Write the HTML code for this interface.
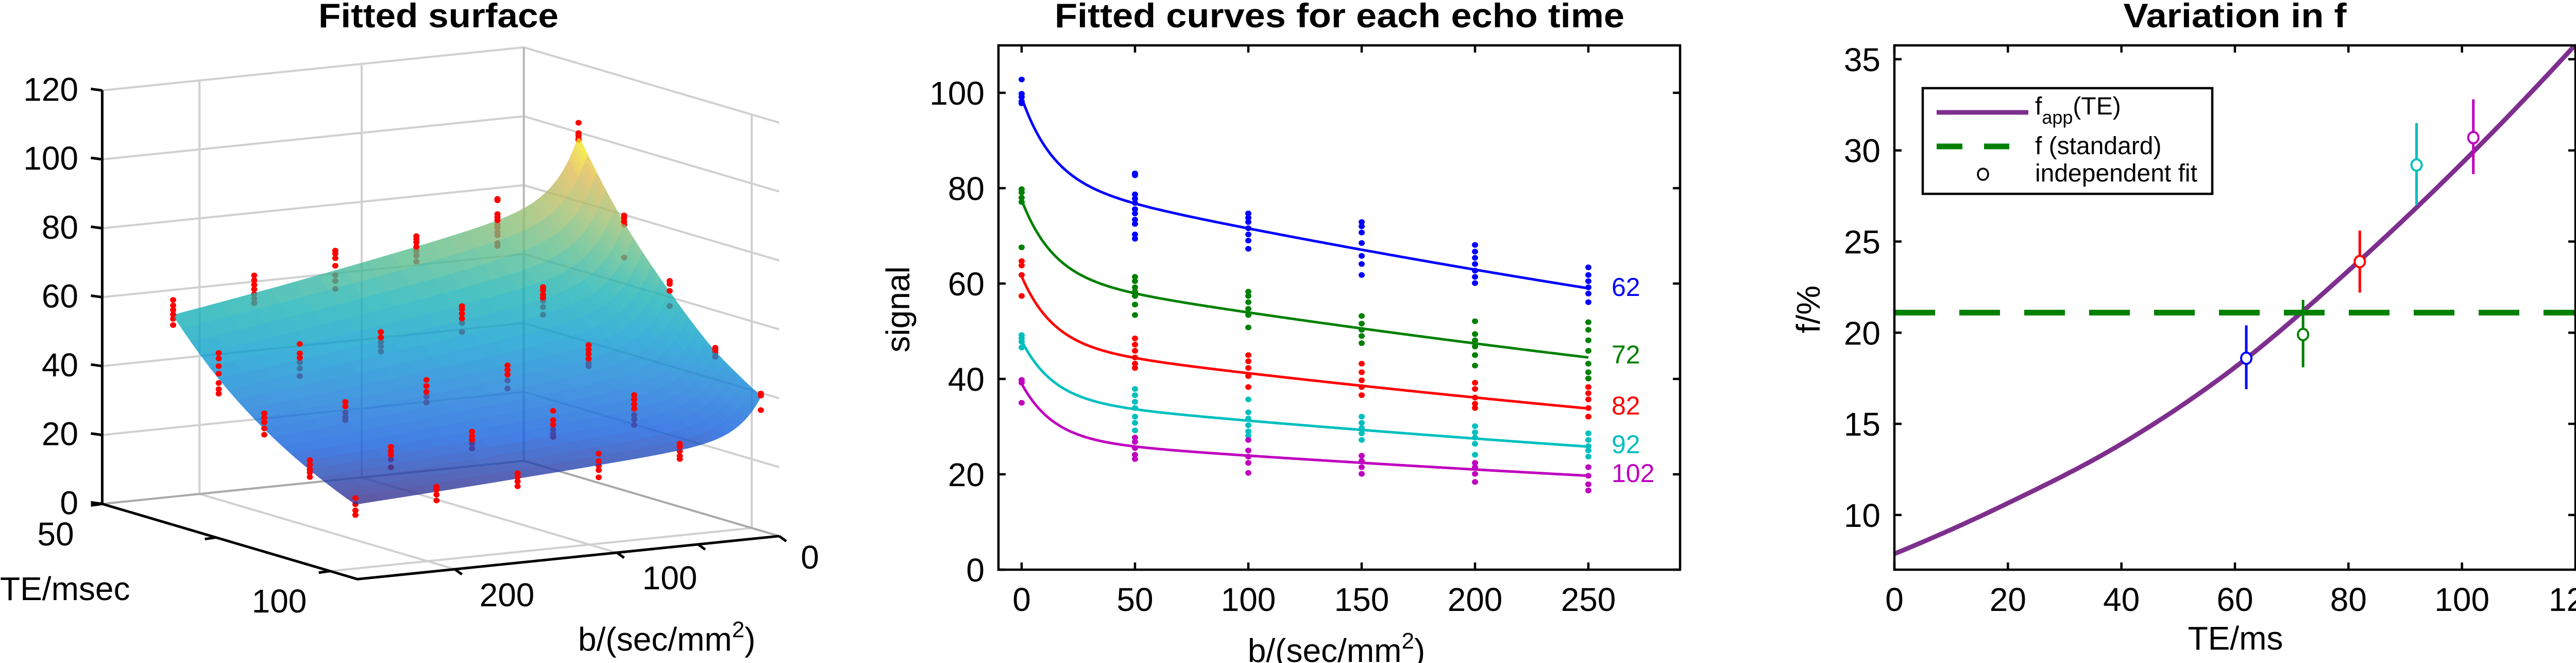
<!DOCTYPE html>
<html><head><meta charset="utf-8"><style>
html,body{margin:0;padding:0;background:#fff;}
svg{display:block;font-family:"Liberation Sans",sans-serif;}
</style></head><body>
<svg id="fig" xmlns="http://www.w3.org/2000/svg" width="5058" height="1286" viewBox="0 0 5058 1286">
<defs>
<clipPath id="clipR"><rect x="3677" y="88" width="1322" height="1017"/></clipPath>
<clipPath id="clipM"><rect x="1938" y="88" width="1323" height="1017"/></clipPath>
</defs>
<g id="p3d"></g>
<g id="pmid"></g>
<g id="pright"></g>
</svg>
<script>
// ---------- data ----------
const echoTimes = [62, 72, 82, 92, 102];
const bValues = [0, 50, 100, 150, 200, 250];
const fitS0 = [99, 77.5, 61.5, 48, 39];
const fitS50 = [76.3, 57.5, 44, 33.3, 25.5];
const fitS250 = [59, 44.5, 33.8, 25.8, 19.7];
const seriesColors = ['#0000ff', '#008000', '#ff0000', '#00bfbf', '#bf00bf'];
const sig62 = [[102.8,99.8,99.1,98.2,97.8],[83.1,82.7,78.7,77.8,76.9,75.6,74.7,73.4,72.5,70.3,69.4],[74.7,73.8,72.9,71.6,70.3,69.0,67.3],[72.9,72.0,70.7,68.5,65.8,64.1,61.8],[68.1,66.7,65.4,64.1,62.7,61.4,60.1],[63.4,61.8,60.5,59.2,57.9,56.1]];
const sig72 = [[79.8,79.1,78.0,77.1,67.6],[61.4,60.5,59.2,58.3,57.4,55.6,53.4],[58.3,57.4,56.1,54.7,53.4,50.8],[53.2,51.6,50.3,49.0,47.5],[52.1,49.4,48.1,46.8,45.0,42.8],[51.9,50.3,48.1,45.9,43.2,41.4,40.1]];
const sig82 = [[64.7,63.8,61.8,57.4],[48.5,47.2,45.9,44.5,43.2,42.3],[45.0,43.7,42.3,40.6,38.3],[43.2,41.4,39.7,38.3,36.6],[39.2,37.9,36.1,34.8,33.9],[38.3,37.0,35.7,33.9,32.1]];
const sig92 = [[49.2,48.5,47.8,46.6],[37.9,36.6,35.2,33.9,32.1,30.8,29.2],[35.7,33.0,31.7,30.3,29.0,28.1],[32.1,30.8,29.7,28.6,27.2],[30.1,28.8,27.7,26.4,24.1],[28.6,27.2,25.9,25.0,23.7]];
const sig102 = [[39.8,39.2,35.0],[27.7,26.8,25.5,24.1,23.2],[27.2,25.0,23.7,22.4,20.3],[23.9,22.8,21.5,20.1],[22.4,21.5,20.1,18.4],[21.5,19.7,17.9,16.6]];
const signalPoints = [sig62, sig72, sig82, sig92, sig102];
const teGrid = [0,20,40,60,80,100,120];
const fappVals = [7.87,10.65,13.9,18.1,23.4,29.3,35.8];
const fStandard = 21.1;
const indepTE = [62,72,82,92,102];
const indepF = [18.6,19.9,23.9,29.2,30.7];
const indepLo = [16.9,18.1,22.2,27.0,28.7];
const indepHi = [20.4,21.8,25.6,31.5,32.8];
const midXTicks = [0,50,100,150,200,250];
const midYTicks = [0,20,40,60,80,100];
const rightXTicks = [0,20,40,60,80,100,120];
const rightYTicks = [10,15,20,25,30,35];
const zTicks = [0,20,40,60,80,100,120];

const NS = 'http://www.w3.org/2000/svg';
function mk(parent, tag, attrs) {
  const e = document.createElementNS(NS, tag);
  for (const k in attrs) e.setAttribute(k, attrs[k]);
  parent.appendChild(e);
  return e;
}
function fitCurve(i, b) {
  const r = fitS250[i] / fitS50[i];
  const slow = fitS50[i] * Math.pow(r, (b - 50) / 200);
  const slow0 = fitS50[i] * Math.pow(r, -50 / 200);
  return slow + (fitS0[i] - slow0) * Math.exp(-b / 14);
}
function fitSurface(te, b) {
  let i = 0;
  while (i < echoTimes.length - 2 && te > echoTimes[i + 1]) i++;
  const t = (te - echoTimes[i]) / (echoTimes[i + 1] - echoTimes[i]);
  return Math.exp((1 - t) * Math.log(fitCurve(i, b)) + t * Math.log(fitCurve(i + 1, b)));
}

// ---------- middle panel ----------
const gm = document.getElementById('pmid');
const mx = b => 1983 + b * 4.4;
const my = v => 1105 - v * 9.25;
{
  let t = mk(gm, 'text', {x: 2600, y: 53, 'text-anchor': 'middle', 'font-size': 66, 'font-weight': 'bold', textLength: 1106, lengthAdjust: 'spacingAndGlyphs'});
  t.textContent = 'Fitted curves for each echo time';
  
  
  midXTicks.forEach(v => {
    const l = mk(gm, 'path', {d: `M${mx(v)},1105v-14M${mx(v)},88v14`, stroke: '#000', 'stroke-width': 4.5});
    
    
    const tx = mk(gm, 'text', {x: mx(v), y: 1185, 'text-anchor': 'middle', 'font-size': 64});
    tx.textContent = v;
    
    
  });
  midYTicks.forEach(v => {
    const l = mk(gm, 'path', {d: `M1938,${my(v)}h14M3261,${my(v)}h-14`, stroke: '#000', 'stroke-width': 4.5});
    
    
    const tx = mk(gm, 'text', {x: 1911, y: my(v) + 23, 'text-anchor': 'end', 'font-size': 64});
    tx.textContent = v;
    
    
  });
  const yl = mk(gm, 'text', {x: 0, y: 0, transform: 'translate(1765,600) rotate(-90)', 'text-anchor': 'middle', 'font-size': 64});
  yl.textContent = 'signal';
  
  
  const xl = mk(gm, 'text', {x: 2594, y: 1284, 'text-anchor': 'middle', 'font-size': 64});
  xl.innerHTML = 'b/(sec/mm<tspan dy="-26" font-size="44">2</tspan><tspan dy="26">)</tspan>';
  
  
  const cg = mk(gm, 'g', {'clip-path': 'url(#clipM)'});
  echoTimes.forEach((te, i) => {
    signalPoints[i].forEach((vals, j) => {
      vals.forEach(v => {
        const c = mk(cg, 'ellipse', {cx: mx(bValues[j]), cy: my(v), rx: 6, ry: 5.5, fill: seriesColors[i]});
        
        
      });
    });
    let d = '';
    for (let b = 0; b <= 250; b += 1) d += (b ? 'L' : 'M') + mx(b).toFixed(1) + ',' + my(fitCurve(i, b)).toFixed(1);
    const p = mk(cg, 'path', {d: d, fill: 'none', stroke: seriesColors[i], 'stroke-width': 5});
    
    
  });
  const labY = [574, 705, 804, 879, 935];
  echoTimes.forEach((te, i) => {
    const tx = mk(gm, 'text', {x: 3128, y: labY[i], 'font-size': 50, fill: seriesColors[i]});
    tx.textContent = te;
    
    
  });
  const box = mk(gm, 'rect', {x: 1938, y: 88, width: 1323, height: 1017, fill: 'none', stroke: '#000', 'stroke-width': 4.5});
  
  
}

// ---------- right panel ----------
const gr = document.getElementById('pright');
const rx = t => 3677 + t * (1322 / 120);
const ry = v => 1105 - (v - 7) * 35.36;
{
  let t = mk(gr, 'text', {x: 4338, y: 53, 'text-anchor': 'middle', 'font-size': 66, 'font-weight': 'bold', textLength: 433, lengthAdjust: 'spacingAndGlyphs'});
  t.textContent = 'Variation in f';
  
  
  rightXTicks.forEach(v => {
    const l = mk(gr, 'path', {d: `M${rx(v)},1105v-14M${rx(v)},88v14`, stroke: '#000', 'stroke-width': 4.5});
    
    
    const tx = mk(gr, 'text', {x: rx(v), y: 1185, 'text-anchor': 'middle', 'font-size': 64});
    if (v === 120) { tx.setAttribute('textLength', 104); tx.setAttribute('lengthAdjust', 'spacingAndGlyphs'); }
    tx.textContent = v;
    
    
  });
  rightYTicks.forEach(v => {
    const l = mk(gr, 'path', {d: `M3677,${ry(v)}h14M4999,${ry(v)}h-14`, stroke: '#000', 'stroke-width': 4.5});
    
    
    const tx = mk(gr, 'text', {x: 3650, y: ry(v) + 23, 'text-anchor': 'end', 'font-size': 64});
    tx.textContent = v;
    
    
  });
  const yl = mk(gr, 'text', {x: 0, y: 0, transform: 'translate(3532,600) rotate(-90)', 'text-anchor': 'middle', 'font-size': 64});
  yl.textContent = 'f/%';
  
  
  const xl = mk(gr, 'text', {x: 4339, y: 1260, 'text-anchor': 'middle', 'font-size': 64});
  xl.textContent = 'TE/ms';
  
  
  const cg = mk(gr, 'g', {'clip-path': 'url(#clipR)'});
  // monotone cubic (Fritsch-Carlson-like) sampling through knots
  const n = teGrid.length;
  const sl = [];
  for (let i = 0; i < n - 1; i++) sl.push((fappVals[i + 1] - fappVals[i]) / (teGrid[i + 1] - teGrid[i]));
  const m = teGrid.map((_, i) => i === 0 ? sl[0] - (sl[1] - sl[0]) / 2 : i === n - 1 ? sl[n - 2] + (sl[n - 2] - sl[n - 3]) / 2 : (sl[i - 1] + sl[i]) / 2);
  let d = '';
  for (let i = 0; i < n - 1; i++) {
    const h = teGrid[i + 1] - teGrid[i];
    for (let k = 0; k <= 30; k++) {
      const s = k / 30, s2 = s * s, s3 = s2 * s;
      const v = (2*s3-3*s2+1)*fappVals[i] + (s3-2*s2+s)*h*m[i] + (-2*s3+3*s2)*fappVals[i+1] + (s3-s2)*h*m[i+1];
      const x = teGrid[i] + s * h;
      d += (d ? 'L' : 'M') + rx(x).toFixed(1) + ',' + ry(v).toFixed(1);
    }
  }
  const fl = mk(cg, 'path', {d: d, fill: 'none', stroke: '#7e2f8e', 'stroke-width': 9});
  
  
  const dl = mk(cg, 'line', {x1: 3677, x2: 4999, y1: ry(fStandard), y2: ry(fStandard), stroke: '#008000', 'stroke-width': 11, 'stroke-dasharray': '79 47'});
  
  
  indepTE.forEach((te, i) => {
    const e = mk(gr, 'line', {x1: rx(te), x2: rx(te), y1: ry(indepLo[i]), y2: ry(indepHi[i]), stroke: seriesColors[i], 'stroke-width': 5});
    
    
    const c = mk(gr, 'ellipse', {cx: rx(te), cy: ry(indepF[i]), rx: 10, ry: 11, fill: '#fff', stroke: seriesColors[i], 'stroke-width': 4});
    
    
  });
  const lg = mk(gr, 'g', {});
  
  
  const lb = mk(lg, 'rect', {x: 3732, y: 171, width: 562, height: 205, fill: '#fff', stroke: '#000', 'stroke-width': 4.5});
  
  
  const l1 = mk(lg, 'line', {x1: 3759, x2: 3937, y1: 218, y2: 218, stroke: '#7e2f8e', 'stroke-width': 9});
  
  
  const t1 = mk(lg, 'text', {x: 3950, y: 222, 'font-size': 48});
  t1.innerHTML = 'f<tspan dy="18" font-size="36">app</tspan><tspan dy="-18">(TE)</tspan>';
  
  
  const l2 = mk(lg, 'line', {x1: 3759, x2: 3900, y1: 284, y2: 284, stroke: '#008000', 'stroke-width': 11, 'stroke-dasharray': '50 42'});
  
  
  const t2 = mk(lg, 'text', {x: 3950, y: 299, 'font-size': 48});
  t2.textContent = 'f (standard)';
  
  
  const c3 = mk(lg, 'ellipse', {cx: 3849, cy: 338, rx: 10, ry: 11, fill: '#fff', stroke: '#000', 'stroke-width': 3.5});
  
  
  const t3 = mk(lg, 'text', {x: 3950, y: 352, 'font-size': 48});
  t3.textContent = 'independent fit';
  
  
  const box = mk(gr, 'rect', {x: 3677, y: 88, width: 1322, height: 1017, fill: 'none', stroke: '#000', 'stroke-width': 4.5});
  
  
}

// ---------- 3D panel ----------
const g3 = document.getElementById('p3d');
const TEmin = 50, TEmax = 106, Bmax = 260;
function proj(te, b, z) {
  const u = (te - TEmin) / (TEmax - TEmin), w = b / Bmax;
  return [1016.8 - 818.4 * w + 495.4 * u, 893.8 + 83.6 * w + 146 * u - 6.683 * z];
}
function pt(p) { return p[0].toFixed(1) + ',' + p[1].toFixed(1); }
const parula = [[53,42,135],[15,92,221],[18,125,216],[7,156,207],[21,177,180],[89,189,140],[165,190,107],[225,185,82],[249,251,14]];
function cmap(t) {
  t = Math.max(0, Math.min(1, t)) * 8;
  const i = Math.min(7, Math.floor(t)), f = t - i;
  const a = parula[i], c = parula[i + 1];
  return `rgb(${Math.round(a[0] + (c[0] - a[0]) * f)},${Math.round(a[1] + (c[1] - a[1]) * f)},${Math.round(a[2] + (c[2] - a[2]) * f)})`;
}
{
  let t = mk(g3, 'text', {x: 851, y: 53, 'text-anchor': 'middle', 'font-size': 66, 'font-weight': 'bold', textLength: 466, lengthAdjust: 'spacingAndGlyphs'});
  t.textContent = 'Fitted surface';
  
  
  const grid = mk(g3, 'g', {stroke: '#d0d0d0', 'stroke-width': 4, fill: 'none'});
  
  
  let d = '';
  zTicks.forEach(z => {
    d += `M${pt(proj(TEmin, Bmax, z))}L${pt(proj(TEmin, 0, z))}L${pt(proj(TEmax, 0, z))}`;
  });
  [100, 200].forEach(b => {
    d += `M${pt(proj(TEmin, b, 120))}L${pt(proj(TEmin, b, 0))}L${pt(proj(TEmax, b, 0))}`;
  });
  d += `M${pt(proj(100, 0, 120))}L${pt(proj(100, 0, 0))}L${pt(proj(100, Bmax, 0))}`;
  mk(grid, 'path', {d: d});
  const back = mk(g3, 'line', {x1: proj(TEmin,0,0)[0], y1: proj(TEmin,0,0)[1], x2: proj(TEmin,0,120)[0], y2: proj(TEmin,0,120)[1], stroke: '#b8b8b8', 'stroke-width': 4});
  
  
  const fb = mk(g3, 'path', {d: `M${pt(proj(TEmin,Bmax,0))}L${pt(proj(TEmin,0,0))}L${pt(proj(TEmax,0,0))}`, stroke: '#aaa', 'stroke-width': 4, fill: 'none'});
  
  

  const below = mk(g3, 'g', {});
  
  
  const surf = mk(g3, 'g', {opacity: 0.78});
  
  
  const above = mk(g3, 'g', {});
  
  

  const bs = [0,1,2,3,4,5,6,8,10,12,14,17,20,24,28,33,38,44,50,60,70,80,90,100,115,130,145,160,175,190,205,220,235,250];
  const tes = [];
  for (let x = 62; x <= 102; x += 2) tes.push(x);
  let zmin = 1e9, zmax = -1e9;
  tes.forEach(te => bs.forEach(b => { const z = fitSurface(te, b); zmin = Math.min(zmin, z); zmax = Math.max(zmax, z); }));
  const quads = [];
  for (let i = 0; i < tes.length - 1; i++) for (let j = 0; j < bs.length - 1; j++) {
    const c = [[tes[i], bs[j]], [tes[i + 1], bs[j]], [tes[i + 1], bs[j + 1]], [tes[i], bs[j + 1]]];
    const zs = c.map(q => fitSurface(q[0], q[1]));
    const key = ((tes[i] + tes[i + 1]) / 2 - TEmin) / 56 + ((bs[j] + bs[j + 1]) / 2) / 260;
    quads.push({c, zs, key});
  }
  quads.sort((a, b) => a.key - b.key);
  quads.forEach(q => {
    const zAvg = (q.zs[0] + q.zs[1] + q.zs[2] + q.zs[3]) / 4;
    const col = cmap((zAvg - zmin) / (zmax - zmin));
    const pts = q.c.map((cc, k) => pt(proj(cc[0], cc[1], q.zs[k]))).join(' ');
    mk(surf, 'polygon', {points: pts, fill: col, stroke: col, 'stroke-width': 1.2, 'stroke-linejoin': 'round'});
  });

  echoTimes.forEach((te, i) => {
    signalPoints[i].forEach((vals, j) => {
      vals.forEach(v => {
        const p = proj(te, bValues[j], v);
        const isAbove = v >= fitSurface(te, bValues[j]);
        const c = mk(isAbove ? above : below, 'ellipse', {cx: p[0], cy: p[1], rx: 6, ry: 5.5, fill: '#ff0000'});
        
        
      });
    });
  });

  // axes
  const A = proj(TEmin, Bmax, 0), A2 = proj(TEmin, Bmax, 120), B = proj(TEmax, Bmax, 0), C = proj(TEmax, 0, 0);
  const ax = mk(g3, 'path', {d: `M${pt(A2)}L${pt(A)}L${pt(B)}L${pt(C)}`, fill: 'none', stroke: '#000', 'stroke-width': 5});
  
  
  zTicks.forEach(z => {
    const p = proj(TEmin, Bmax, z);
    const tk = mk(g3, 'line', {x1: p[0], y1: p[1], x2: p[0] - 22, y2: p[1] - 3, stroke: '#000', 'stroke-width': 5});
    
    
    const tx = mk(g3, 'text', {x: 152, y: p[1] + 20, 'text-anchor': 'end', 'font-size': 64});
    tx.textContent = z;
    
    
  });
  [50, 75, 100].forEach(te => {
    const p = proj(te, Bmax, 0);
    const tk = mk(g3, 'line', {x1: p[0], y1: p[1], x2: p[0] - 22, y2: p[1] + 3, stroke: '#000', 'stroke-width': 5});
    
    
  });
  [[50, 108, 1058], [100, 542, 1188]].forEach(a => {
    const tx = mk(g3, 'text', {x: a[1], y: a[2], 'text-anchor': 'middle', 'font-size': 64});
    tx.textContent = a[0];
    
    
  });
  [0, 50, 100, 200].forEach(b => {
    const p = proj(TEmax, b, 0);
    const tk = mk(g3, 'line', {x1: p[0], y1: p[1], x2: p[0] + 14, y2: p[1] + 10, stroke: '#000', 'stroke-width': 5});
    
    
  });
  [[0, 1572, 1103], [100, 1300, 1143], [200, 984, 1176]].forEach(a => {
    const tx = mk(g3, 'text', {x: a[1], y: a[2], 'text-anchor': 'middle', 'font-size': 64});
    tx.textContent = a[0];
    
    
  });
  const tl = mk(g3, 'text', {x: 0, y: 1164, 'font-size': 64});
  tl.textContent = 'TE/msec';
  
  
  const bl = mk(g3, 'text', {x: 1122, y: 1262, 'font-size': 64});
  bl.innerHTML = 'b/(sec/mm<tspan dy="-26" font-size="44">2</tspan><tspan dy="26">)</tspan>';
  
  
}
</script>
</body></html>
